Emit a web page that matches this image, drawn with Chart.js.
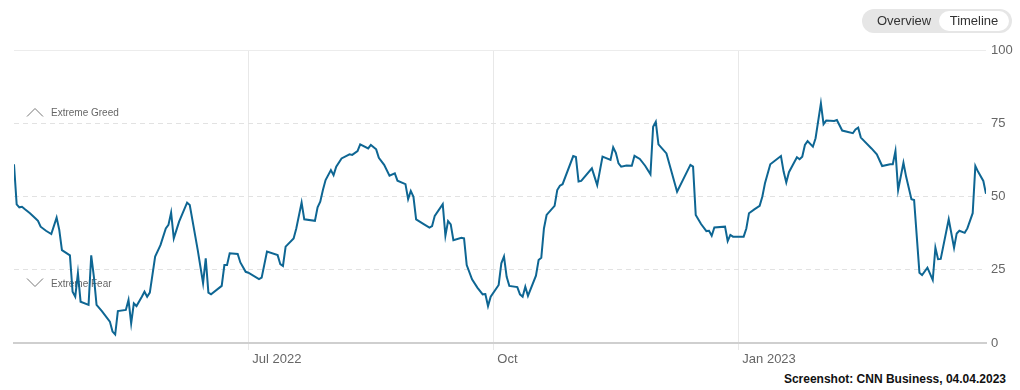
<!DOCTYPE html>
<html>
<head>
<meta charset="utf-8">
<script src="https://cdn.jsdelivr.net/npm/chart.js@4"></script>
<style>
  body { margin: 0; background: #fff; font-family: "Liberation Sans", Arial, sans-serif; }
  #wrap { position: relative; width: 1020px; height: 390px; overflow: hidden; }
  #chartBox { position: absolute; left: 0; top: 0; width: 1020px; height: 370px; }
  .toggle { position: absolute; left: 862px; top: 9px; width: 150px; height: 24px; background: #e6e6e6; border-radius: 12px; font-size: 13px; color: #333; }
  .toggle span { position: absolute; top: 0; height: 24px; line-height: 24px; }
  .toggle .on { left: 77px; top: 2px; width: 70px; height: 20px; line-height: 20px; background: #fff; border-radius: 10px; text-align: center; }
  .credit { position: absolute; right: 14px; top: 372px; font-size: 12px; font-weight: bold; color: #111; }
</style>
</head>
<body>
<div id="wrap">
  <div id="chartBox"><canvas id="fearGreed"></canvas></div>
  <div class="toggle"><span style="left:15px">Overview</span><span class="on">Timeline</span></div>
  <div class="credit">Screenshot: CNN Business, 04.04.2023</div>
</div>
<script>
const startDate = "2022-04-04";
const endDate = "2023-04-04";

const dates = [
  "2022-04-04","2022-04-05","2022-04-06","2022-04-07","2022-04-08","2022-04-10","2022-04-12","2022-04-13","2022-04-14","2022-04-16",
  "2022-04-18","2022-04-20","2022-04-21","2022-04-22","2022-04-23","2022-04-25","2022-04-26","2022-04-27","2022-04-28","2022-04-29",
  "2022-05-02","2022-05-03","2022-05-04","2022-05-05","2022-05-07","2022-05-10","2022-05-11","2022-05-12","2022-05-13","2022-05-16",
  "2022-05-17","2022-05-18","2022-05-19","2022-05-20","2022-05-22","2022-05-23","2022-05-24","2022-05-25","2022-05-27","2022-05-29",
  "2022-05-31","2022-06-01","2022-06-02","2022-06-03","2022-06-05","2022-06-08","2022-06-09","2022-06-12","2022-06-14","2022-06-15",
  "2022-06-16","2022-06-17","2022-06-21","2022-06-22","2022-06-23","2022-06-24","2022-06-27","2022-06-28","2022-06-30","2022-07-01",
  "2022-07-05","2022-07-06","2022-07-08","2022-07-12","2022-07-13","2022-07-14","2022-07-15","2022-07-18","2022-07-19","2022-07-21",
  "2022-07-22","2022-07-26","2022-07-27","2022-07-28","2022-07-29","2022-07-30","2022-08-01","2022-08-02","2022-08-03","2022-08-05",
  "2022-08-08","2022-08-09","2022-08-11","2022-08-12","2022-08-15","2022-08-16","2022-08-18","2022-08-19","2022-08-21","2022-08-23",
  "2022-08-25","2022-08-26","2022-08-29","2022-08-30","2022-08-31","2022-09-01","2022-09-02","2022-09-05","2022-09-07","2022-09-08",
  "2022-09-09","2022-09-12","2022-09-13","2022-09-14","2022-09-15","2022-09-16","2022-09-19","2022-09-20","2022-09-21","2022-09-23",
  "2022-09-25","2022-09-27","2022-09-28","2022-09-29","2022-09-30","2022-10-03","2022-10-04","2022-10-05","2022-10-06","2022-10-07",
  "2022-10-10","2022-10-11","2022-10-12","2022-10-13","2022-10-14","2022-10-17","2022-10-18","2022-10-19","2022-10-20","2022-10-21",
  "2022-10-24","2022-10-25","2022-10-26","2022-10-27","2022-10-31","2022-11-01","2022-11-02","2022-11-03","2022-11-07","2022-11-09",
  "2022-11-11","2022-11-14","2022-11-15","2022-11-16","2022-11-17","2022-11-18","2022-11-20","2022-11-22","2022-11-23","2022-11-25",
  "2022-11-27","2022-11-29","2022-11-30","2022-12-01","2022-12-02","2022-12-05","2022-12-09","2022-12-14","2022-12-15","2022-12-16",
  "2022-12-18","2022-12-20","2022-12-21","2022-12-22","2022-12-23","2022-12-27","2022-12-28","2022-12-29","2022-12-30","2023-01-03",
  "2023-01-04","2023-01-05","2023-01-07","2023-01-09","2023-01-10","2023-01-11","2023-01-13","2023-01-17","2023-01-18","2023-01-19",
  "2023-01-20","2023-01-23","2023-01-24","2023-01-25","2023-01-26","2023-01-27","2023-01-29","2023-01-30","2023-02-01","2023-02-02",
  "2023-02-03","2023-02-06","2023-02-07","2023-02-09","2023-02-13","2023-02-14","2023-02-15","2023-02-16","2023-02-20","2023-02-22",
  "2023-02-24","2023-02-27","2023-02-28","2023-03-01","2023-03-02","2023-03-04","2023-03-05","2023-03-07","2023-03-08","2023-03-10",
  "2023-03-11","2023-03-13","2023-03-15","2023-03-16","2023-03-17","2023-03-18","2023-03-21","2023-03-23","2023-03-24","2023-03-25",
  "2023-03-27","2023-03-28","2023-03-30","2023-03-31","2023-04-01","2023-04-03","2023-04-04"
];

const indexValues = [
  61, 47.3, 46.3, 46.5, 45.7, 44.3, 42.6, 41.7, 39.7, 38.3,
  37.2, 42.8, 38.6, 31.7, 31.1, 29.9, 17.5, 15.8, 23.8, 14.1,
  13.0, 29.9, 22.6, 13.0, 10.9, 7.3, 3.9, 2.9, 10.9, 11.3,
  14.7, 6.7, 13.5, 12.6, 15.8, 17.5, 15.8, 17.2, 29.5, 33.4,
  39.1, 40.3, 44.5, 35.7, 41.4, 47.9, 47.1, 31.7, 20.4, 28.9,
  17.2, 16.6, 19.5, 26.6, 26.6, 30.6, 30.4, 27.5, 24.3, 24.0,
  21.8, 22.3, 31.2, 30.0, 26.9, 26.3, 32.9, 35.7, 39.1, 47.9,
  42.2, 41.7, 46.3, 48.2, 52.2, 55.6, 59.0, 57.3, 60.2, 63.0,
  64.4, 64.2, 65.5, 67.8, 66.4, 67.6, 66.1, 63.2, 60.8, 57.1,
  57.9, 55.4, 54.2, 49.1, 51.9, 49.9, 42.2, 40.5, 39.4, 39.9,
  43.4, 47.4, 36.6, 41.6, 40.5, 35.1, 35.9, 35.7, 26.6, 21.7,
  18.9, 16.6, 16.7, 12.6, 15.8, 19.8, 27.2, 29.5, 22.6, 19.5,
  19.1, 16.6, 15.8, 19.2, 16.1, 23.0, 28.3, 29.1, 39.1, 43.7,
  46.8, 52.2, 53.7, 54.2, 63.8, 63.5, 55.1, 55.3, 59.6, 53.9,
  63.6, 62.5, 66.8, 64.9, 61.3, 60.2, 60.6, 60.5, 63.9, 62.8,
  60.5, 57.6, 73.8, 75.5, 67.8, 64.7, 51.6, 60.8, 60.2, 43.7,
  40.6, 38.2, 38.3, 36.6, 39.4, 39.7, 34.8, 36.9, 36.3, 36.3,
  39.1, 44.3, 45.6, 46.8, 49.9, 54.5, 61.0, 63.8, 58.5, 54.8,
  58.3, 63.4, 62.7, 63.6, 67.6, 68.9, 67.0, 69.9, 81.8, 74.7,
  75.9, 75.8, 76.1, 72.5, 71.6, 72.9, 73.5, 70.1, 66.4, 64.4,
  60.4, 61.0, 61.0, 65.5, 52.2, 61.5, 56.8, 49.1, 48.8, 24.0,
  23.2, 25.7, 21.5, 32.5, 28.6, 28.7, 42.2, 32.5, 37.4, 38.3,
  37.6, 39.1, 44.3, 60.4, 58.5, 55.3, 50.9
];

const xTickDates = ["2022-07-01", "2022-10-01", "2023-01-01"];
const xTickLabels = ["Jul 2022", "Oct", "Jan 2023"];
const yTicks = [0, 25, 50, 75, 100];

const FONT = "'Liberation Sans', Arial, sans-serif";

function dayOf(s) {
  const [y, m, d] = s.split("-").map(Number);
  const [y0, m0, d0] = startDate.split("-").map(Number);
  return (Date.UTC(y, m - 1, d) - Date.UTC(y0, m0 - 1, d0)) / 86400000;
}

const points = dates.map((d, i) => ({ x: dayOf(d), y: indexValues[i] }));

// chevrons + "Extreme" labels on the left of the plot
const zonePlugin = {
  id: "zones",
  beforeDatasetsDraw(chart) {
    const ctx = chart.ctx;
    const yScale = chart.scales.y;
    const zones = [
      { text: "Extreme Greed", at: 78.5, up: true },
      { text: "Extreme Fear", at: 20.3, up: false },
    ];
    ctx.save();
    zones.forEach((z) => {
      const py = Math.round(yScale.getPixelForValue(z.at)) + 0.5;
      ctx.strokeStyle = "#777";
      ctx.lineWidth = 1;
      ctx.beginPath();
      if (z.up) {
        ctx.moveTo(27, py + 3);
        ctx.lineTo(35, py - 5);
        ctx.lineTo(43, py + 3);
      } else {
        ctx.moveTo(27, py - 6);
        ctx.lineTo(35, py + 2);
        ctx.lineTo(43, py - 6);
      }
      ctx.stroke();
      ctx.fillStyle = "#666";
      ctx.font = "10px " + FONT;
      ctx.textBaseline = "middle";
      ctx.fillText(z.text, 51, py);
    });
    ctx.restore();
  },
};

new Chart(document.getElementById("fearGreed"), {
  type: "line",
  data: {
    datasets: [
      {
        label: "Fear & Greed Index",
        data: points,
        borderColor: "#0e6693",
        borderWidth: 2,
        pointRadius: 0,
        tension: 0,
        fill: false,
      },
    ],
  },
  options: {
    responsive: true,
    maintainAspectRatio: false,
    animation: false,
    layout: { padding: { left: 14, right: 0, top: 50, bottom: 1 } },
    plugins: { legend: { display: false }, tooltip: { enabled: false } },
    scales: {
      x: {
        type: "linear",
        min: 0,
        max: dayOf(endDate),
        afterBuildTicks: (scale) => {
          scale.ticks = xTickDates.map((d) => ({ value: dayOf(d) }));
        },
        afterFit: (scale) => {
          scale.height = 26;
        },
        ticks: {
          autoSkip: false,
          maxRotation: 0,
          align: "start",
          labelOffset: 4,
          padding: 2,
          color: "#666",
          font: { family: FONT, size: 13 },
          callback: (v, i) => xTickLabels[i],
        },
        grid: {
          color: "#e8e8e8",
          lineWidth: 1,
          drawTicks: true,
          tickLength: 7,
          tickColor: "#e8e8e8",
        },
        border: { display: true, color: "#cfcfcf", width: 2 },
      },
      y: {
        position: "right",
        min: 0,
        max: 100,
        afterBuildTicks: (scale) => {
          scale.ticks = yTicks.map((v) => ({ value: v }));
        },
        afterFit: (scale) => {
          scale.width = 34;
        },
        ticks: {
          padding: 5,
          color: "#666",
          font: { family: FONT, size: 13 },
        },
        grid: {
          drawTicks: false,
          color: (c) => (c.tick && c.tick.value === 0 ? "rgba(0,0,0,0)" : c.tick && c.tick.value === 100 ? "#ececec" : "#e2e2e2"),
        },
        border: {
          display: false,
          dash: (c) => (c.tick && c.tick.value === 100 ? [] : [5, 4]),
        },
      },
    },
  },
  plugins: [zonePlugin],
});
</script>
</body>
</html>
